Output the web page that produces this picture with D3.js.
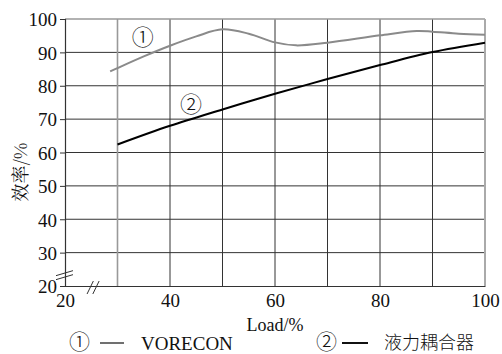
<!DOCTYPE html>
<html>
<head>
<meta charset="utf-8">
<script src="https://cdn.jsdelivr.net/npm/d3@7"></script>
<style>
  body { margin: 0; background: #fff; }
  text { font-family: "Liberation Serif", "Times New Roman", serif; fill: #111; }
</style>
</head>
<body>
<svg id="chart" width="502" height="354"></svg>
<script>
(function () {
  // Data.
  let xTicks = [20, 40, 60, 80, 100];
  let yTicks = [20, 30, 40, 50, 60, 70, 80, 90, 100];
  let gridX = [30, 40, 50, 60, 70, 80, 90];
  let vorecon = [
    [28.6, 84.3], [30, 85.3], [35, 88.8], [40, 92.0], [45, 94.8], [50, 96.9],
    [55, 95.6], [60, 93.0], [64, 92.1], [70, 92.9], [80, 95.1], [87, 96.4],
    [90, 96.2], [95, 95.6], [100, 95.3]
  ];
  let coupling = [
    [30, 62.4], [40, 68.0], [50, 72.9], [55, 75.3], [60, 77.6], [70, 82.0],
    [80, 86.2], [90, 90.1], [100, 92.9]
  ];

  let svg = d3.select("#chart");
  let left = 65, right = 485, top = 19, bottom = 286;
  let circled = "'Noto Sans CJK SC', 'DejaVu Sans', sans-serif";

  let x = d3.scaleLinear().domain([20, 100]).range([left, right]);
  let y = d3.scaleLinear().domain([20, 100]).range([bottom, top]);

  // Grid.
  svg.append("g").selectAll("line").data(yTicks.filter((d) => d > 20 && d < 100)).enter()
    .append("line")
    .attr("x1", left).attr("x2", right)
    .attr("y1", (d) => y(d)).attr("y2", (d) => y(d))
    .attr("stroke", "#333").attr("stroke-width", 1);

  svg.append("g").selectAll("line").data(gridX).enter()
    .append("line")
    .attr("x1", (d) => x(d)).attr("x2", (d) => x(d))
    .attr("y1", top).attr("y2", bottom)
    .attr("stroke", (d) => (d === 30 ? "#999" : "#333"))
    .attr("stroke-width", (d) => (d === 30 ? 1.6 : 1));

  // Frame.
  svg.append("line").attr("x1", left).attr("x2", right).attr("y1", top).attr("y2", top)
    .attr("stroke", "#999").attr("stroke-width", 1.3);
  svg.append("line").attr("x1", right).attr("x2", right).attr("y1", top).attr("y2", bottom)
    .attr("stroke", "#aaa").attr("stroke-width", 2);

  // Axes.
  let yAxis = d3.axisLeft(y).tickValues(yTicks).tickSize(5).tickPadding(3);
  let gy = svg.append("g").attr("transform", `translate(${left},0)`).call(yAxis);
  let xAxis = d3.axisBottom(x).tickValues(xTicks).tickSize(0).tickPadding(6);
  let gx = svg.append("g").attr("transform", `translate(0,${bottom})`).call(xAxis);
  [gy, gx].forEach((g) => {
    g.select(".domain").attr("stroke", "#333").attr("stroke-width", 1.2);
    g.selectAll(".tick line").attr("stroke", "#333");
    g.selectAll("text").attr("font-size", 19)
      .style("font-family", "'Liberation Serif', serif").attr("fill", "#111");
  });
  gy.selectAll("text").attr("dy", "0.36em");
  gx.selectAll("text").attr("dy", "0.8em");

  // Axis breaks.
  let brk = svg.append("g").attr("stroke", "#333").attr("stroke-width", 1);
  brk.append("line").attr("x1", left - 9).attr("y1", y(24) + 3).attr("x2", left + 8).attr("y2", y(24) - 2);
  brk.append("line").attr("x1", left - 9).attr("y1", y(24) + 7).attr("x2", left + 8).attr("y2", y(24) + 2);
  brk.append("line").attr("x1", x(24.2)).attr("y1", bottom + 8).attr("x2", x(25.4)).attr("y2", bottom - 5);
  brk.append("line").attr("x1", x(25.3)).attr("y1", bottom + 8).attr("x2", x(26.5)).attr("y2", bottom - 5);

  // Curves.
  let line = d3.line().x((d) => x(d[0])).y((d) => y(d[1])).curve(d3.curveCatmullRom.alpha(0.5));
  svg.append("path").datum(vorecon).attr("d", line)
    .attr("fill", "none").attr("stroke", "#8a8a8a").attr("stroke-width", 2);
  svg.append("path").datum(coupling).attr("d", line)
    .attr("fill", "none").attr("stroke", "#000").attr("stroke-width", 2);

  // Curve markers.
  svg.append("text").attr("x", x(34.8)).attr("y", y(92.3)).attr("font-size", 22)
    .style("font-family", circled).attr("font-weight", 300)
    .attr("text-anchor", "middle").text("①");
  svg.append("text").attr("x", x(44)).attr("y", y(72.2)).attr("font-size", 22)
    .style("font-family", circled).attr("font-weight", 300)
    .attr("text-anchor", "middle").text("②");

  // Axis titles.
  svg.append("text").attr("x", 275).attr("y", 331).attr("font-size", 18)
    .attr("text-anchor", "middle").text("Load/%");
  svg.append("text").attr("transform", "translate(27,172) rotate(-90)")
    .attr("font-size", 18).attr("text-anchor", "middle")
    .style("font-family", "'Noto Serif CJK SC', 'Noto Sans CJK SC', serif")
    .text("效率/%");

  // Legend.
  svg.append("text").attr("x", 69).attr("y", 349).attr("font-size", 21)
    .style("font-family", circled).attr("font-weight", 300).text("①");
  svg.append("line").attr("x1", 100).attr("x2", 124).attr("y1", 343).attr("y2", 343)
    .attr("stroke", "#111").attr("stroke-width", 1.2);
  svg.append("text").attr("x", 141).attr("y", 350).attr("font-size", 19).text("VORECON");
  svg.append("text").attr("x", 316).attr("y", 349).attr("font-size", 21)
    .style("font-family", circled).attr("font-weight", 300).text("②");
  svg.append("line").attr("x1", 342).attr("x2", 368).attr("y1", 343).attr("y2", 343)
    .attr("stroke", "#111").attr("stroke-width", 2);
  svg.append("text").attr("x", 384).attr("y", 349).attr("font-size", 18)
    .style("font-family", "'Noto Sans CJK SC', serif").attr("font-weight", 300)
    .text("液力耦合器");
})();
</script>
</body>
</html>
